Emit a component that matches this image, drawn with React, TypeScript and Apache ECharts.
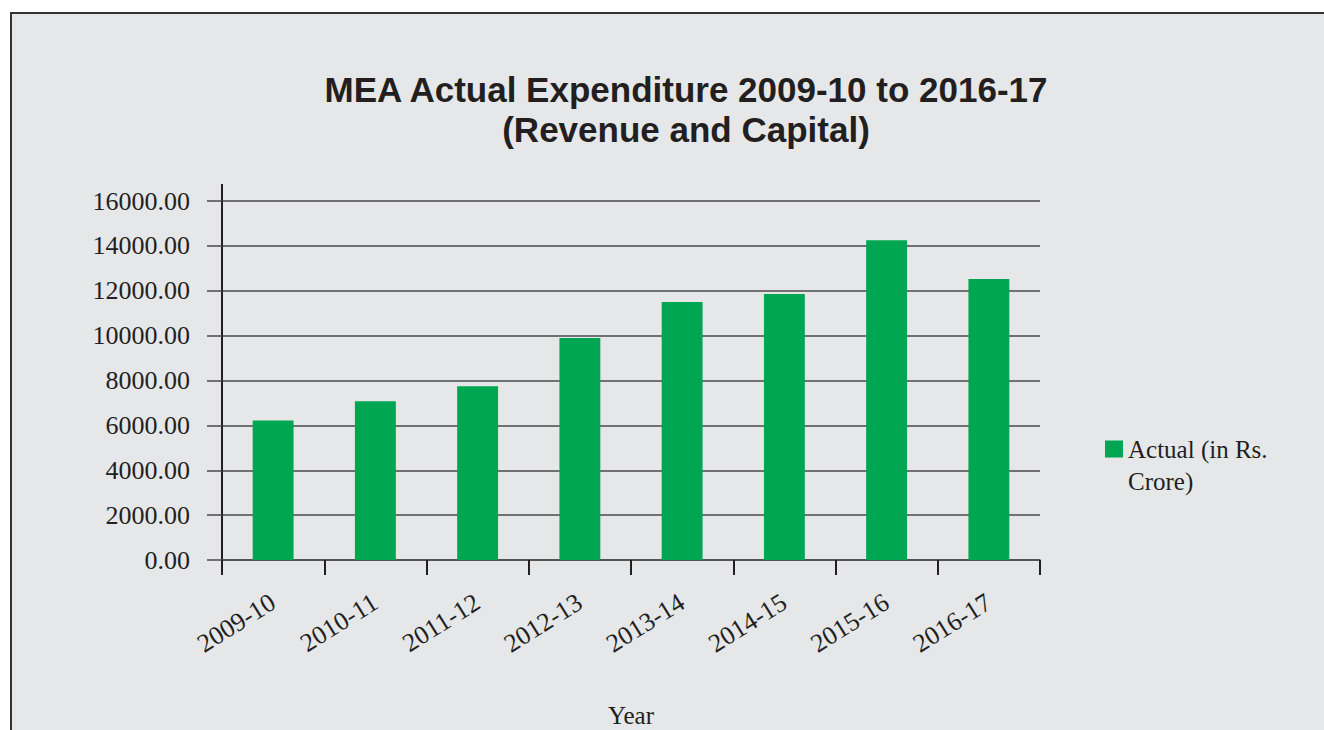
import React, { useEffect, useRef } from "react";
import * as echarts from "echarts";

const categories = ["2009-10", "2010-11", "2011-12", "2012-13", "2013-14", "2014-15", "2015-16", "2016-17"];
const actualValues = [6220, 7070, 7740, 9890, 11500, 11850, 14250, 12520];
const seriesName = "Actual (in Rs. Crore)";
const legendLine1 = "Actual (in Rs.";
const legendLine2 = "Crore)";
const titleText = "MEA Actual Expenditure 2009-10 to 2016-17\n(Revenue and Capital)";
const xAxisName = "Year";

const SERIF = "'Liberation Serif', 'DejaVu Serif', serif";
const SANS = "'Liberation Sans', Arial, sans-serif";
const TEXT = "#231f20";

export default function App() {
  const ref = useRef<HTMLDivElement>(null);
  useEffect(() => {
    if (!ref.current) return;
    const chart = echarts.init(ref.current, null, { renderer: "svg" });
    chart.setOption({
      animation: false,
      title: {
        text: titleText,
        left: 686,
        top: 69,
        padding: 0,
        textAlign: "center",
        textStyle: { fontFamily: SANS, fontSize: 35, fontWeight: "bold", color: TEXT, lineHeight: 40 },
      },
      legend: {
        left: 1105,
        top: 433,
        padding: 0,
        orient: "vertical",
        itemWidth: 18,
        itemHeight: 17,
        icon: "rect",
        formatter: () => legendLine1,
        textStyle: { fontFamily: SERIF, fontSize: 25, color: TEXT, lineHeight: 32 },
        data: [seriesName],
      },
      grid: { left: 222, right: 284, top: 201, bottom: 170, containLabel: false },
      xAxis: {
        type: "category",
        data: categories,
        name: xAxisName,
        nameLocation: "middle",
        nameGap: 143,
        nameTextStyle: { fontFamily: SERIF, fontSize: 25, color: TEXT },
        axisLine: { show: true, lineStyle: { color: "#4a4a4c", width: 1.5 } },
        axisTick: { show: true, length: 15, lineStyle: { color: TEXT, width: 2 } },
        axisLabel: { interval: 0, rotate: 32, margin: 40, fontFamily: SERIF, fontSize: 26, color: TEXT },
      },
      yAxis: {
        type: "value",
        min: 0,
        max: 16000,
        interval: 2000,
        axisLine: { show: true, lineStyle: { color: TEXT, width: 2 } },
        axisTick: { show: true, length: 15, lineStyle: { color: "#4a4a4c", width: 1.5 } },
        splitLine: { show: true, lineStyle: { color: "#4a4a4c", width: 1.5 } },
        axisLabel: {
          margin: 32,
          fontFamily: SERIF,
          fontSize: 26,
          color: TEXT,
          formatter: (v: number) => v.toFixed(2),
        },
      },
      graphic: [
        { type: "line", shape: { x1: 222, y1: 184, x2: 222, y2: 201 }, style: { stroke: TEXT, lineWidth: 2 } },
        {
          type: "text",
          left: 1128,
          top: 465,
          style: { text: legendLine2, fontFamily: SERIF, fontSize: 25, fill: TEXT, lineHeight: 32 },
        },
      ],
      series: [
        {
          name: seriesName,
          type: "bar",
          data: actualValues,
          barWidth: "40%",
          itemStyle: { color: "#00a651" },
        },
      ],
    });
    return () => chart.dispose();
  }, []);

  return (
    <div style={{ position: "fixed", left: 0, top: 0, width: 1324, height: 730, background: "#fff", overflow: "hidden" }}>
      <div
        style={{
          position: "absolute",
          left: 10,
          top: 12,
          width: 1340,
          height: 740,
          border: "2px solid #333",
          background: "#e6e7e9",
        }}
      />
      <div ref={ref} style={{ position: "absolute", left: 0, top: 0, width: 1324, height: 730 }} />
    </div>
  );
}
